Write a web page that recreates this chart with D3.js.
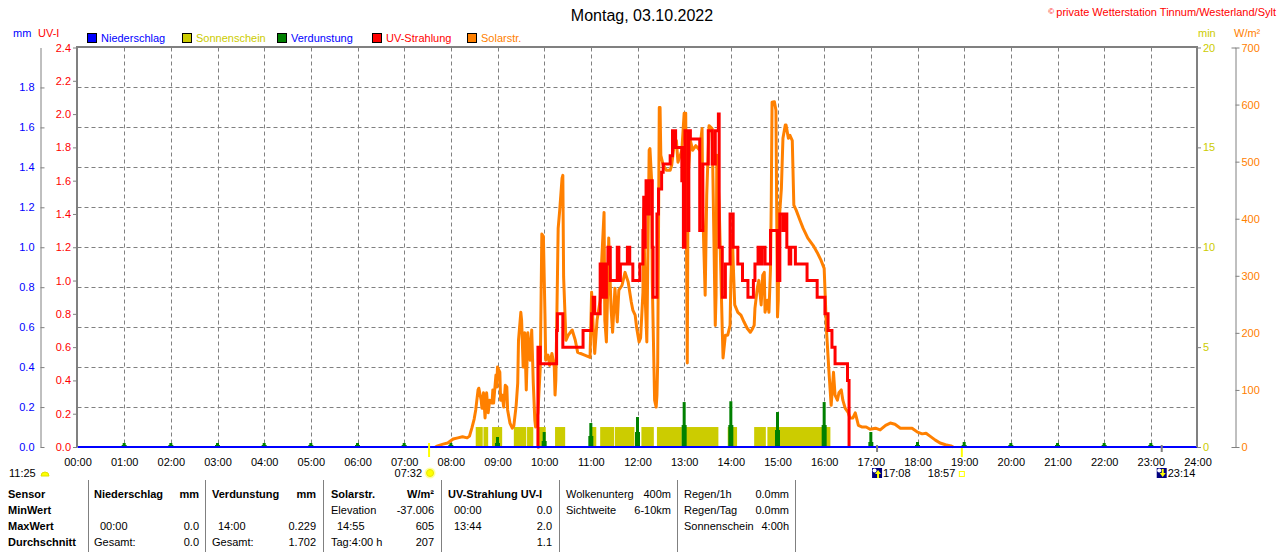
<!DOCTYPE html>
<html><head><meta charset="utf-8">
<script src="https://cdn.jsdelivr.net/npm/d3@7"></script>
<style>
body{margin:0;background:#fff;}
svg{display:block;font-family:"Liberation Sans",Arial,sans-serif;font-size:11px;}
</style></head><body>
<svg id="c" width="1280" height="552"></svg>
<script>
// ---------------- DATA ----------------
const title = "Montag, 03.10.2022";
const copyright = "private Wetterstation Tinnum/Westerland/Sylt";
const hourTicks = [0,1,2,3,4,5,6,7,8,9,10,11,12,13,14,15,16,17,18,19,20,21,22,23,24];
const uvTicks = [0,0.2,0.4,0.6,0.8,1.0,1.2,1.4,1.6,1.8,2.0,2.2,2.4];
const mmTicks = [0,0.2,0.4,0.6,0.8,1.0,1.2,1.4,1.6,1.8];
const sunTicks = [0,5,10,15,20];
const solarTicks = [0,100,200,300,400,500,600,700];
const legendNames = ["Niederschlag","Sonnenschein","Verdunstung","UV-Strahlung","Solarstr."];
const legendColors = ["#0000ff","#cccc00","#008000","#ff0000","#ff8000"];
const legendTextColors = ["#0000ff","#cccc00","#0000ff","#ff0000","#ff8000"];

// solar radiation [minute of day, W/m²]
const solar = [[460,0],[463,2],[470,5],[476,7],[483,14],[489,16],[495,18],[501,16],[504,19],[507,33],[510,49],[512,65],[515,100],[516,103],[519,82],[520,68],[522,95],[524,51],[526,95],[528,60],[530,82],[533,77],[534,100],[535,77],[538,126],[539,105],[540,140],[543,131],[544,82],[546,91],[548,70],[550,108],[552,105],[553,65],[556,42],[559,33],[561,37],[564,73],[566,112],[567,187],[570,236],[571,222],[573,140],[575,200],[577,100],[579,200],[582,152],[584,205],[586,112],[588,47],[589,35],[592,60],[595,140],[596,257],[597,373],[599,369],[601,234],[602,152],[605,161],[607,143],[610,164],[613,140],[614,91],[615,117],[616,200],[618,383],[620,415],[623,471],[624,476],[625,298],[628,187],[631,196],[636,205],[640,187],[643,166],[652,161],[659,157],[661,271],[663,210],[665,164],[668,222],[672,257],[674,327],[677,411],[678,222],[680,184],[682,292],[683,366],[686,243],[688,201],[691,278],[694,219],[696,275],[700,283],[704,306],[708,289],[712,254],[714,240],[717,231],[719,208],[722,184],[724,191],[727,271],[728,418],[730,257],[732,184],[735,520],[736,523],[738,471],[739,289],[742,82],[744,70],[745,91],[746,149],[748,595],[749,595],[750,511],[753,494],[757,485],[762,485],[764,494],[767,528],[770,537],[772,499],[775,511],[777,520],[780,585],[782,585],[784,147],[785,471],[788,537],[791,520],[795,528],[800,520],[803,558],[804,411],[807,266],[809,441],[812,563],[816,558],[817,471],[820,213],[821,266],[822,511],[825,423],[829,205],[830,156],[833,196],[836,196],[839,213],[840,289],[842,371],[843,324],[845,249],[849,236],[853,231],[857,219],[861,208],[865,201],[867,205],[870,213],[871,243],[874,278],[876,292],[879,249],[881,301],[883,306],[884,236],[887,257],[889,236],[891,313],[892,432],[893,604],[896,605],[898,590],[900,228],[901,257],[902,394],[905,453],[907,541],[910,564],[911,564],[914,541],[916,546],[919,537],[921,424],[924,415],[929,397],[933,383],[939,366],[946,353],[951,341],[956,327],[960,313],[963,205],[966,135],[969,73],[972,131],[974,91],[977,82],[979,95],[982,100],[984,82],[987,68],[991,60],[993,51],[997,51],[1000,60],[1004,38],[1009,35],[1014,35],[1019,31],[1026,33],[1032,30],[1039,38],[1045,42],[1051,40],[1058,33],[1066,33],[1073,33],[1080,26],[1086,23],[1091,24],[1096,19],[1103,12],[1109,7],[1116,4],[1123,2],[1126,0]];

// UV index (step) [minute of day, UV-I]
const uv = [[591,0],[592,0.6],[595,0.5],[616,0.7],[617,0.8],[624,0.6],[650,0.7],[661,0.8],[663,0.9],[665,0.8],[672,1.1],[674,0.9],[676,1.1],[678,0.9],[680,1.1],[682,1.2],[685,1.0],[694,1.2],[696,1.0],[698,1.1],[707,1.2],[710,1.1],[714,1.0],[723,1.1],[727,1.3],[728,1.5],[729,1.2],[730,1.4],[731,1.6],[734,1.4],[735,1.6],[739,1.2],[740,0.9],[745,1.4],[747,1.55],[751,1.65],[753,1.7],[762,1.75],[765,1.9],[766,1.8],[768,1.9],[769,1.8],[775,1.8],[777,1.6],[778,1.8],[779,1.2],[781,1.9],[785,1.3],[786,1.9],[788,1.85],[800,1.3],[804,1.7],[811,1.9],[816,1.7],[820,1.9],[824,2.0],[825,1.2],[829,0.9],[833,1.1],[839,1.4],[843,1.2],[849,1.1],[855,1.0],[862,0.9],[869,1.0],[871,1.1],[875,1.2],[877,1.1],[880,1.2],[884,1.1],[891,1.3],[900,1.0],[903,1.4],[907,1.3],[910,1.4],[912,1.2],[915,1.1],[917,1.2],[923,1.1],[938,1.0],[951,0.9],[961,0.8],[965,0.7],[970,0.6],[974,0.5],[990,0.4],[992,0]];

// sunshine periods [start minute, end minute], value in min
const sunshineStart = [512,522,533,561,578,593,614,661,672,691,725,745,782,836,870,887];
const sunshineEnd   = [521,528,546,577,586,602,627,667,690,716,741,777,824,848,885,968];
const sunshineValue = 1;

// evaporation per hour (mm): peak and shoulder
const evapHours = [1,2,3,4,5,6,7,8,9,10,11,12,13,14,15,16,17,18,19,20,21,22,23];
const evapPeak  = [0.02,0.02,0.02,0.02,0.02,0.02,0.02,0.02,0.05,0.075,0.12,0.15,0.225,0.229,0.175,0.225,0.075,0.025,0.025,0.02,0.02,0.02,0.02];
const evapBase  = [0.01,0.01,0.01,0.01,0.01,0.01,0.01,0.01,0.02,0.03,0.055,0.075,0.11,0.11,0.085,0.11,0.025,0.01,0.01,0.01,0.01,0.01,0.01];

// precipitation [minute, mm]
const precip = [[0,0],[1440,0]];

// astronomical events
const sunrise = "07:32", sunset = "18:57", moonrise = "17:08", moonset = "23:14", dayLength = "11:25";

// table
const tableRowLabels = ["Sensor","MinWert","MaxWert","Durchschnitt"];
const tableCols = [
  {bold:true, rows:[["Niederschlag","mm"],["",""],["00:00","0.0"],["Gesamt:","0.0"]]},
  {bold:true, rows:[["Verdunstung","mm"],["",""],["14:00","0.229"],["Gesamt:","1.702"]]},
  {bold:true, rows:[["Solarstr.","W/m²"],["Elevation","-37.006"],["14:55","605"],["Tag:4:00 h","207"]]},
  {bold:true, rows:[["UV-Strahlung UV-I",""],["00:00","0.0"],["13:44","2.0"],["","1.1"]]},
  {bold:false, rows:[["Wolkenunterg","400m"],["Sichtweite","6-10km"],["",""],["",""]]},
  {bold:false, rows:[["Regen/1h","0.0mm"],["Regen/Tag","0.0mm"],["Sonnenschein","4:00h"],["",""]]}
];

// ---------------- DRAW ----------------
const svg = d3.select("#c");
const L = 77.5, R = 1197.5, T = 47.5, B = 447;
const GREY = "#808080";
const x = d3.scaleLinear().domain([0,1440]).range([L,R]);
const yUV = d3.scaleLinear().domain([0,2.4]).range([B,T]);
const yMM = d3.scaleLinear().domain([0,2.0]).range([B,T]);
const ySun = d3.scaleLinear().domain([0,20]).range([B,T]);
const ySol = d3.scaleLinear().domain([0,700]).range([B,T]);
const toMin = s => { const p = s.split(":"); return +p[0]*60 + +p[1]; };

// title & copyright
svg.append("text").attr("x",642).attr("y",21).attr("text-anchor","middle")
  .style("font-size","16px").attr("fill","#000").text(title);
const cp = svg.append("text").attr("x",1276).attr("y",16).attr("text-anchor","end").attr("fill","#ff0000");
cp.append("tspan").style("font-size","8px").attr("dy","-2").text("© ");
cp.append("tspan").attr("dy","2").text(copyright);

// unit labels
svg.append("text").attr("x",13).attr("y",37).attr("fill","#0000ff").text("mm");
svg.append("text").attr("x",38).attr("y",37).attr("fill","#ff0000").text("UV-I");
svg.append("text").attr("x",1198).attr("y",37).attr("fill","#cccc00").text("min");
svg.append("text").attr("x",1234).attr("y",37).attr("fill","#ff8000").text("W/m²");

// legend
const legX = [87,182,277,372,467];
legendNames.forEach((n,i)=>{
  svg.append("rect").attr("x",legX[i]+0.5).attr("y",33.5).attr("width",9).attr("height",9)
    .attr("fill",legendColors[i]).attr("stroke","#000").attr("stroke-width",1);
  svg.append("text").attr("x",legX[i]+14).attr("y",42).attr("fill",legendTextColors[i]).text(n);
});

// grid
const gGrid = svg.append("g");
gGrid.selectAll("line.h").data(mmTicks.filter(d=>d>0)).join("line")
  .attr("x1",L).attr("x2",R).attr("y1",d=>Math.round(yMM(d))+0.5).attr("y2",d=>Math.round(yMM(d))+0.5)
  .attr("stroke",GREY).attr("stroke-dasharray","4,3");
gGrid.selectAll("line.v").data(hourTicks.filter(h=>h>0&&h<24)).join("line")
  .attr("x1",d=>Math.round(x(d*60))+0.5).attr("x2",d=>Math.round(x(d*60))+0.5).attr("y1",T).attr("y2",B)
  .attr("stroke",GREY).attr("stroke-dasharray","4,3");

// sunshine bars
svg.append("g").selectAll("rect").data(sunshineStart).join("rect")
  .attr("x",(d)=>x(d)).attr("width",(d,i)=>x(sunshineEnd[i])-x(d))
  .attr("y",ySun(sunshineValue)).attr("height",B-ySun(sunshineValue)).attr("fill","#cccc00");

// evaporation
const gE = svg.append("g").attr("fill","#008000");
gE.selectAll("rect.b").data(evapHours).join("rect")
  .attr("x",h=>x(h*60)-2.5).attr("width",5)
  .attr("y",(h,i)=>yMM(evapBase[i])).attr("height",(h,i)=>B-yMM(evapBase[i]));
gE.selectAll("rect.p").data(evapHours).join("rect")
  .attr("x",h=>x(h*60)-1.5).attr("width",3)
  .attr("y",(h,i)=>yMM(evapPeak[i])).attr("height",(h,i)=>B-yMM(evapPeak[i]));

// solar line
svg.append("path").datum(solar)
  .attr("d",d3.line().x(d=>x(d[0])).y(d=>ySol(d[1])))
  .attr("fill","none").attr("stroke","#ff8000").attr("stroke-width",3).attr("stroke-linejoin","round");

// UV line
svg.append("path").datum(uv)
  .attr("d",d3.line().curve(d3.curveStepAfter).x(d=>x(d[0])).y(d=>yUV(d[1])))
  .attr("fill","none").attr("stroke","#ff0000").attr("stroke-width",3);

// precip line
svg.append("path").datum(precip)
  .attr("d",d3.line().x(d=>x(d[0])).y(d=>yMM(d[1])))
  .attr("fill","none").attr("stroke","#0000ff").attr("stroke-width",2);

// frame
svg.append("path").attr("d",`M${L-0.5},${B} V${T-0.5} H${R-0.5} V${B}`)
  .attr("fill","none").attr("stroke",GREY).attr("stroke-width",2);

// axes
function styleAxis(g,color){
  g.selectAll("text").attr("fill",color).style("font-size","11px").style("font-family","'Liberation Sans',Arial,sans-serif");
  g.selectAll("line").attr("stroke",GREY);
  g.selectAll("path.domain").attr("stroke",GREY);
}
const fmt1 = d3.format(".1f");
const gUV = svg.append("g").attr("transform",`translate(${L-0.5},0)`)
  .call(d3.axisLeft(yUV).tickValues(uvTicks).tickSize(4).tickPadding(2).tickFormat(fmt1));
gUV.select(".domain").remove();
styleAxis(gUV,"#ff0000");
const gMM = svg.append("g").attr("transform",`translate(40.5,0)`)
  .call(d3.axisLeft(yMM).tickValues(mmTicks).tickSizeInner(-4).tickSizeOuter(0).tickPadding(6).tickFormat(fmt1));
styleAxis(gMM,"#0000ff");
const gSun = svg.append("g").attr("transform",`translate(${R-0.5},0)`)
  .call(d3.axisRight(ySun).tickValues(sunTicks).tickSize(4).tickPadding(2));
gSun.select(".domain").remove();
styleAxis(gSun,"#cccc00");
const gSol = svg.append("g").attr("transform",`translate(1235.5,0)`)
  .call(d3.axisRight(ySol).tickValues(solarTicks).tickSizeInner(4).tickSizeOuter(-4).tickPadding(2));
styleAxis(gSol,"#ff8000");
const gX = svg.append("g").attr("transform",`translate(0,${B})`)
  .call(d3.axisBottom(x).tickValues(hourTicks.map(h=>h*60)).tickSize(0).tickPadding(11)
    .tickFormat(d=>d3.format("02d")(d/60)+":00"));
gX.select(".domain").remove();
styleAxis(gX,"#000");

// event markers
const xr = x(toMin(sunrise)), xs = x(toMin(sunset)), xmr = x(toMin(moonrise)), xms = x(toMin(moonset));
svg.append("line").attr("x1",xr).attr("x2",xr).attr("y1",443).attr("y2",457).attr("stroke","#ffff00").attr("stroke-width",2);
svg.append("line").attr("x1",xs).attr("x2",xs).attr("y1",448).attr("y2",457).attr("stroke","#ffff00").attr("stroke-width",2);
[xmr,xms].forEach(v=>svg.append("line").attr("x1",v).attr("x2",v).attr("y1",445).attr("y2",452).attr("stroke",GREY).attr("stroke-width",2));

const rowY = 477;
svg.append("text").attr("x",9).attr("y",rowY).attr("fill","#000").text(dayLength);
svg.append("path").attr("d","M41,476 A4,4 0 0 1 49,476 Z").attr("fill","#ffff00").attr("stroke","#e0e000");
svg.append("text").attr("x",xr-7).attr("y",rowY).attr("text-anchor","end").attr("fill","#000").text(sunrise);
const sg = svg.append("g").attr("transform",`translate(${xr+1},473)`);
sg.append("circle").attr("r",5.5).attr("fill","#ffffa0");
sg.append("circle").attr("r",3.5).attr("fill","#ffff00").attr("stroke","#e8e800");
function moonIcon(cx,up){
  const g = svg.append("g").attr("transform",`translate(${cx},468)`);
  g.append("rect").attr("x",0).attr("y",0).attr("width",10).attr("height",10).attr("fill","#000080");
  g.append("circle").attr("cx",2.5).attr("cy",2.5).attr("r",2).attr("fill","#fff");
  if(up) g.append("path").attr("d","M6,2 L9,6 L7,6 L7,10 L5,10 L5,6 L3,6 Z").attr("fill","#ffff00");
  else g.append("path").attr("d","M5,1 L7,1 L7,5 L9,5 L6,9 L3,5 L5,5 Z").attr("fill","#ffff00");
}
moonIcon(xmr-5,true);
svg.append("text").attr("x",xmr+6).attr("y",rowY).attr("fill","#000").text(moonrise);
svg.append("text").attr("x",xs-34).attr("y",rowY).attr("fill","#000").text(sunset);
svg.append("rect").attr("x",xs-2.5).attr("y",471.5).attr("width",5).attr("height",5).attr("fill","#fff").attr("stroke","#ffff00");
moonIcon(xms-5,false);
svg.append("text").attr("x",xms+6).attr("y",rowY).attr("fill","#000").text(moonset);

// table
const sepX = [88.5,205.5,323.5,441.5,559.5,677.5,795.5];
svg.append("g").selectAll("line").data(sepX).join("line")
  .attr("x1",d=>d).attr("x2",d=>d).attr("y1",480).attr("y2",552).attr("stroke",GREY);
const rowBase = [498,514,530,546];
tableRowLabels.forEach((t,i)=>svg.append("text").attr("x",8).attr("y",rowBase[i]).style("font-weight","bold").attr("fill","#000").text(t));
const colLeft = [94,212,331,448,566,684];
const colRight = [199,316,434,552,671,789];
tableCols.forEach((c,ci)=>{
  c.rows.forEach((r,ri)=>{
    const bold = c.bold && ri===0;
    const indent = /^\d\d:\d\d$/.test(r[0]) ? 6 : 0;
    if(r[0]) svg.append("text").attr("x",colLeft[ci]+indent).attr("y",rowBase[ri]).attr("fill","#000")
      .style("font-weight",bold?"bold":"normal").text(r[0]);
    if(r[1]) svg.append("text").attr("x",colRight[ci]).attr("y",rowBase[ri]).attr("text-anchor","end").attr("fill","#000")
      .style("font-weight",bold?"bold":"normal").text(r[1]);
  });
});
</script>
</body></html>
